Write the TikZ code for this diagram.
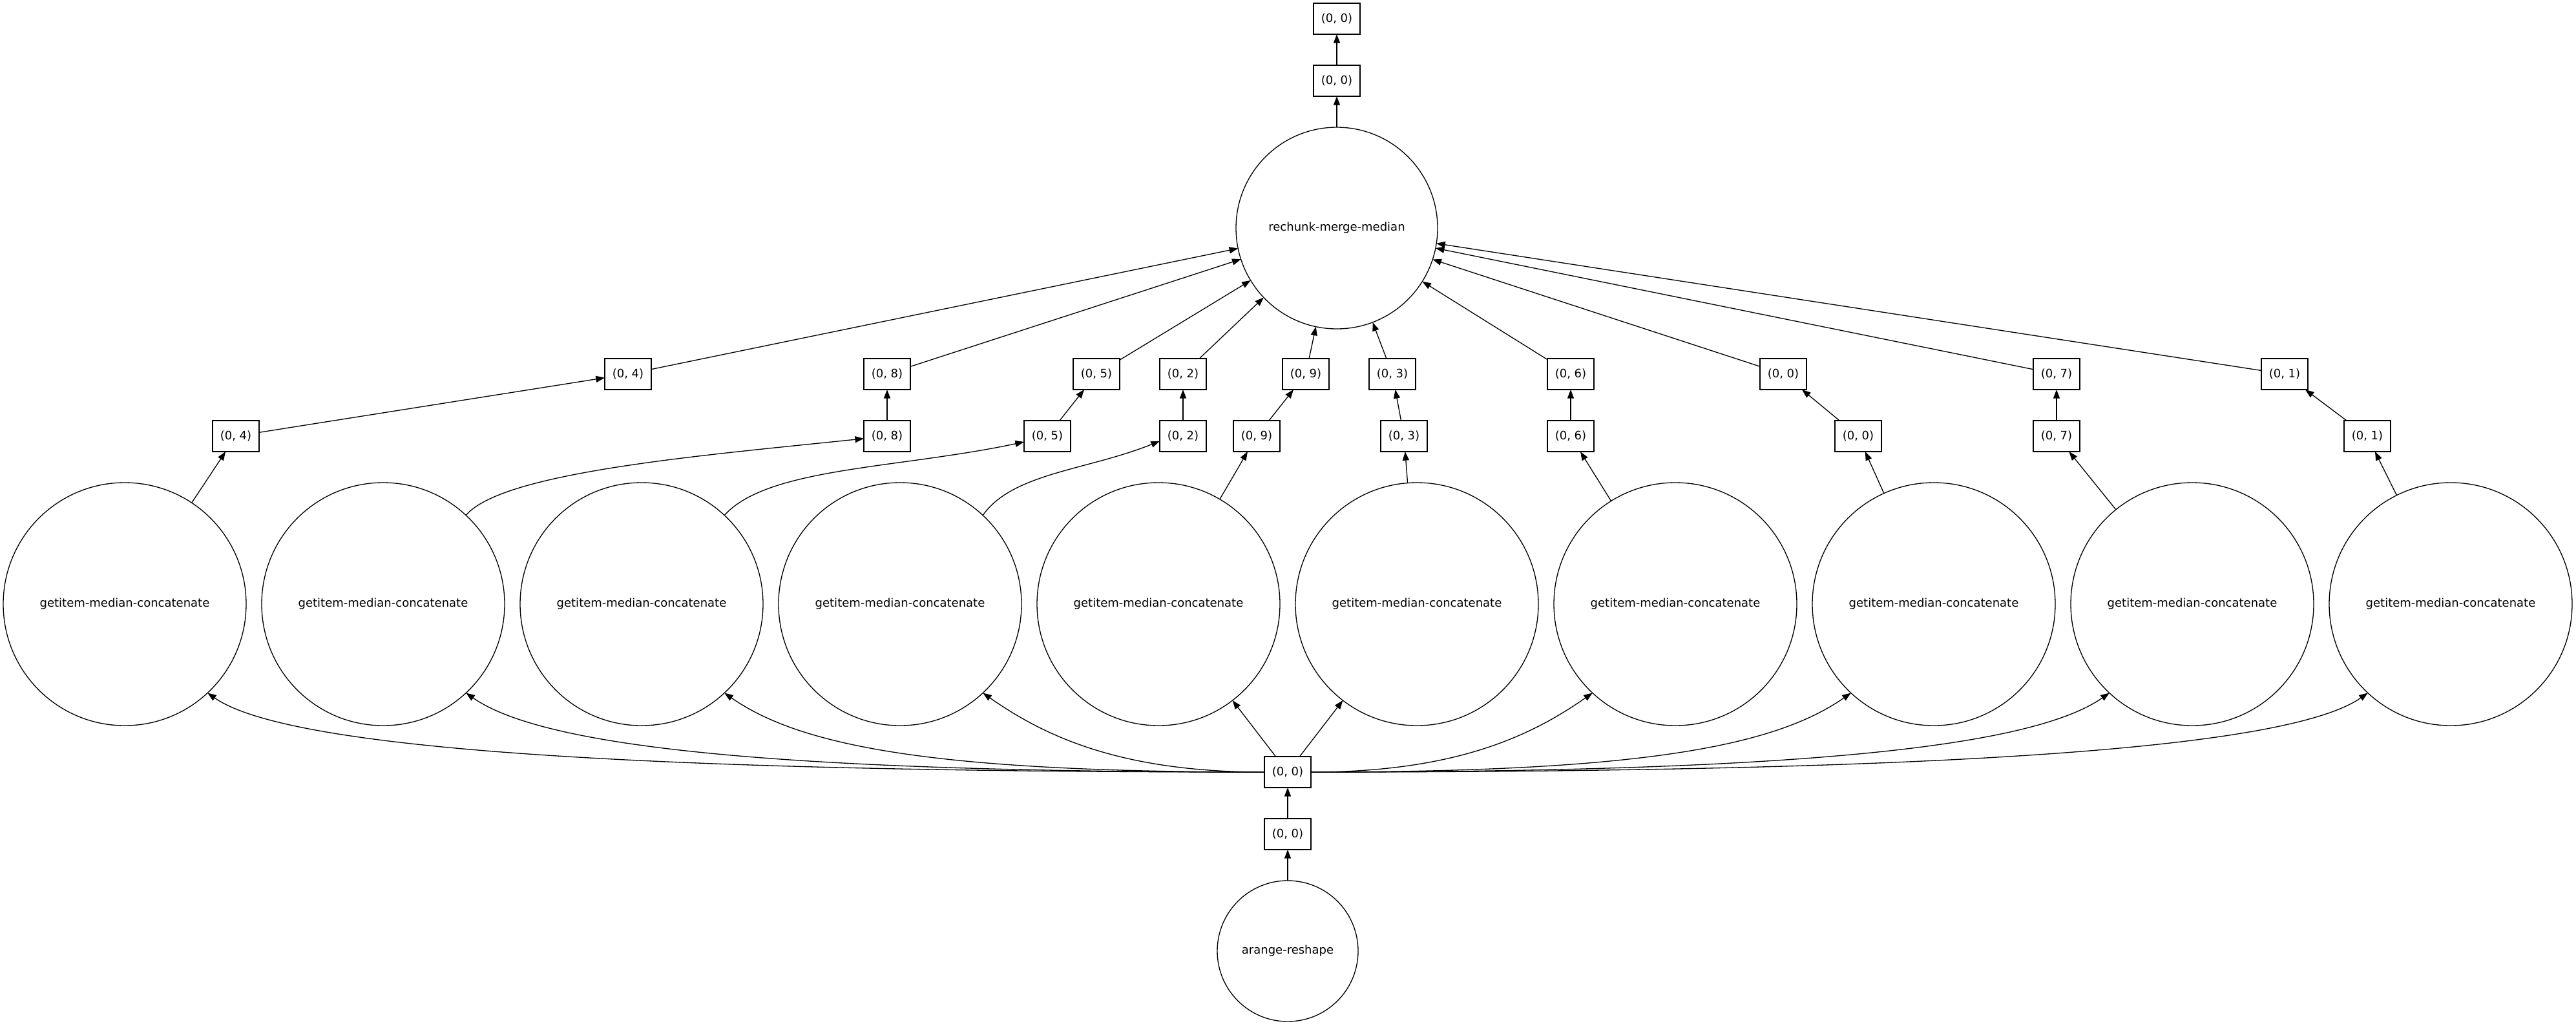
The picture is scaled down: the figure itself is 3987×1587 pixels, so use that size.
\documentclass[tikz,border=0pt]{standalone}
\usepackage{fontspec}
\setmainfont{DejaVu Sans}
\usetikzlibrary{arrows.meta}

\begin{document}
\begin{tikzpicture}[->, >={Triangle[length=3.4pt, width=2.5pt]}, x=0.25pt, y=0.25pt, line width=0.33pt,
    task/.style={circle, draw=black, inner sep=0pt, outer sep=0pt},
    chunk/.style={rectangle, draw=black, minimum width=18pt, minimum height=12pt, inner sep=0pt, outer sep=0pt},
    font=\fontsize{4.5pt}{5.25pt}\selectfont
  ]
  \useasboundingbox (0,0) rectangle (3987,-1587);

  % Nodes manually positioned
  \node[chunk] (out) at (2069,-29) {(0, 0)};
  \node[chunk] (merged) at (2069,-125) {(0, 0)};
  \node[task, minimum size=78pt] (rechunk) at (2069,-353) {rechunk-merge-median};

  \node[chunk] (hi4) at (972,-579) {(0, 4)};
  \node[chunk] (hi8) at (1373,-579) {(0, 8)};
  \node[chunk] (hi5) at (1697,-579) {(0, 5)};
  \node[chunk] (hi2) at (1831,-579) {(0, 2)};
  \node[chunk] (hi9) at (2021,-579) {(0, 9)};
  \node[chunk] (hi3) at (2155,-579) {(0, 3)};
  \node[chunk] (hi6) at (2431,-579) {(0, 6)};
  \node[chunk] (hi0) at (2760,-579) {(0, 0)};
  \node[chunk] (hi7) at (3183,-579) {(0, 7)};
  \node[chunk] (hi1) at (3536,-579) {(0, 1)};

  \node[chunk] (lo4) at (365,-675) {(0, 4)};
  \node[chunk] (lo8) at (1373,-675) {(0, 8)};
  \node[chunk] (lo5) at (1621,-675) {(0, 5)};
  \node[chunk] (lo2) at (1831,-675) {(0, 2)};
  \node[chunk] (lo9) at (1945,-675) {(0, 9)};
  \node[chunk] (lo3) at (2173,-675) {(0, 3)};
  \node[chunk] (lo6) at (2431,-675) {(0, 6)};
  \node[chunk] (lo0) at (2876,-675) {(0, 0)};
  \node[chunk] (lo7) at (3183,-675) {(0, 7)};
  \node[chunk] (lo1) at (3664,-675) {(0, 1)};

  \node[task, minimum size=94pt] (g4) at (193,-935) {getitem-median-concatenate};
  \node[task, minimum size=94pt] (g8) at (593,-935) {getitem-median-concatenate};
  \node[task, minimum size=94pt] (g5) at (993,-935) {getitem-median-concatenate};
  \node[task, minimum size=94pt] (g2) at (1393,-935) {getitem-median-concatenate};
  \node[task, minimum size=94pt] (g9) at (1793,-935) {getitem-median-concatenate};
  \node[task, minimum size=94pt] (g3) at (2193,-935) {getitem-median-concatenate};
  \node[task, minimum size=94pt] (g6) at (2593,-935) {getitem-median-concatenate};
  \node[task, minimum size=94pt] (g0) at (2993,-935) {getitem-median-concatenate};
  \node[task, minimum size=94pt] (g7) at (3393,-935) {getitem-median-concatenate};
  \node[task, minimum size=94pt] (g1) at (3793,-935) {getitem-median-concatenate};

  \node[chunk] (hub) at (1993,-1195) {(0, 0)};
  \node[chunk] (src) at (1993,-1291) {(0, 0)};
  \node[task, minimum size=54.5pt] (arange) at (1993,-1472) {arange-reshape};

  % Edges into the merge
  \draw (merged) -- (out);
  \draw (rechunk) -- (merged);
  \draw (hi4) -- (rechunk);
  \draw (hi8) -- (rechunk);
  \draw (hi5) -- (rechunk);
  \draw (hi2) -- (rechunk);
  \draw (hi9) -- (rechunk);
  \draw (hi3) -- (rechunk);
  \draw (hi6) -- (rechunk);
  \draw (hi0) -- (rechunk);
  \draw (hi7) -- (rechunk);
  \draw (hi1) -- (rechunk);

  \draw (lo4) -- (hi4);
  \draw (lo8) -- (hi8);
  \draw (lo5) -- (hi5);
  \draw (lo2) -- (hi2);
  \draw (lo9) -- (hi9);
  \draw (lo3) -- (hi3);
  \draw (lo6) -- (hi6);
  \draw (lo0) -- (hi0);
  \draw (lo7) -- (hi7);
  \draw (lo1) -- (hi1);

  \draw (g4) -- (lo4);
  \draw (g8.47) to[out=50, in=186, out distance=22pt, in distance=62pt] (lo8.186);
  \draw (g5.47) to[out=48, in=192, out distance=25pt, in distance=50pt] (lo5.194);
  \draw (g2.47) to[out=55, in=202, out distance=20pt, in distance=30pt] (lo2.192);
  \draw (g9) -- (lo9);
  \draw (g3) -- (lo3);
  \draw (g6) -- (lo6);
  \draw (g0) -- (lo0);
  \draw (g7) -- (lo7);
  \draw (g1) -- (lo1);

  % Edges out of the source chunk
  \draw (hub.west) to[out=180, in=-35, out distance=250pt, in distance=37pt] (g4.-47);
  \draw (hub.west) to[out=180, in=-35, out distance=187pt, in distance=37pt] (g8.-47);
  \draw (hub.west) to[out=180, in=-35, out distance=125pt, in distance=37pt] (g5.-47);
  \draw (hub.west) to[out=180, in=-35, out distance=55pt, in distance=30pt] (g2.-47);
  \draw (hub) -- (g9);
  \draw (hub) -- (g3);
  \draw (hub.east) to[out=0, in=-145, out distance=55pt, in distance=30pt] (g6.-133);
  \draw (hub.east) to[out=0, in=-145, out distance=125pt, in distance=37pt] (g0.-133);
  \draw (hub.east) to[out=0, in=-145, out distance=187pt, in distance=37pt] (g7.-133);
  \draw (hub.east) to[out=0, in=-145, out distance=250pt, in distance=37pt] (g1.-133);

  \draw (src) -- (hub);
  \draw (arange) -- (src);

\end{tikzpicture}
\end{document}
